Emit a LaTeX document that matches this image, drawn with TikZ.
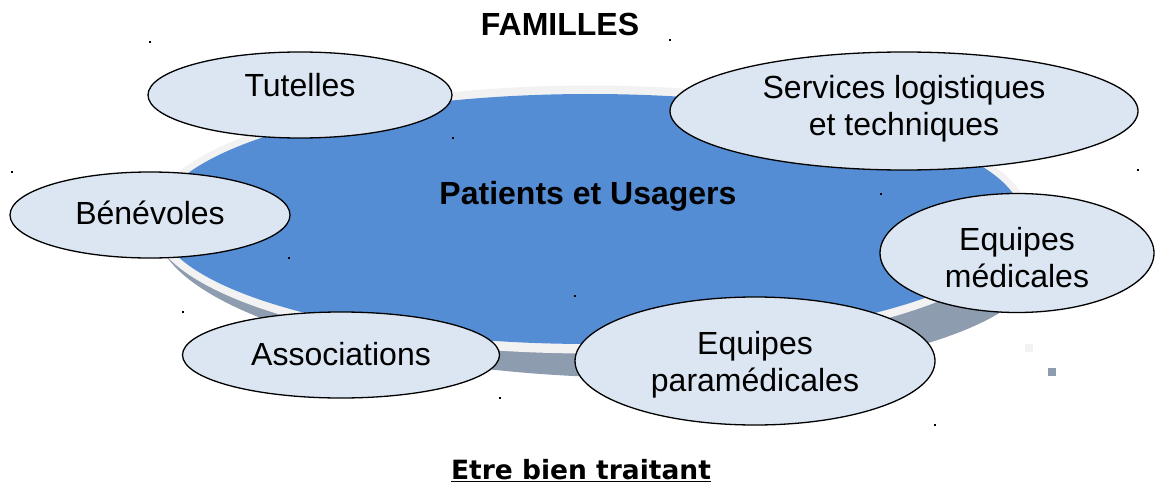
\documentclass[tikz,border=0pt]{standalone}
\usepackage{fontspec}
\setmainfont{Liberation Sans}
\newfontfamily\dejavu{DejaVu Sans}
\usetikzlibrary{shapes.geometric}
\definecolor{discblue}{RGB}{84,141,212}
\definecolor{discrim}{RGB}{242,242,242}
\definecolor{discside}{RGB}{142,156,175}
\definecolor{ovalfill}{RGB}{220,230,242}

\begin{document}
\begin{tikzpicture}[x=1pt,y=-1pt,
    famille/.style={ellipse,draw=black,line width=1.3pt,fill=ovalfill,inner sep=0pt},
    famtxt/.style={align=center,inner sep=0pt,font=\fontsize{32}{37}\selectfont},
    titre/.style={font=\bfseries\fontsize{32}{37}\selectfont},
    handle/.style={fill=black,inner sep=0pt,minimum size=2pt}]
    \useasboundingbox (0,0) rectangle (1155,484);

    % Disc (side, rim, top)
    \fill[discside,rotate around={-2:(600,241)}] (600,241) ellipse [x radius=444,y radius=136];
    \fill[discrim] (590,219.5) ellipse [x radius=440,y radius=134];
    \fill[discblue] (590,219) ellipse [x radius=432,y radius=125];
    \node[titre,anchor=base] (patients) at (588,204) {Patients et Usagers};

    % Titles
    \node[titre,anchor=base] (familles) at (560,36) {FAMILLES};
    \node[font=\dejavu\bfseries\fontsize{26.5}{30}\selectfont,anchor=base] (etre) at (581,479) {\underline{Etre bien traitant}};

    % Ovals round the disc
    \node[famille,minimum width=304,minimum height=86] (tutelles) at (300,95) {};
    \node[famille,minimum width=468,minimum height=118] (services) at (904,111) {};
    \node[famille,minimum width=280,minimum height=86] (benevoles) at (150,215) {};
    \node[famille,minimum width=274,minimum height=119] (medicales) at (1017,253) {};
    \node[famille,minimum width=317,minimum height=86] (associations) at (341,355) {};
    \node[famille,minimum width=360,minimum height=128] (paramed) at (755,361) {};

    % Their texts
    \node[famtxt,anchor=base] (tutlbl) at (300,96) {Tutelles};
    \node[famtxt] (servlbl) at (904,109) {Services logistiques\\et techniques};
    \node[famtxt] (benlbl) at (150,213) {Bénévoles};
    \node[famtxt] (medlbl) at (1017,258) {Equipes\\médicales};
    \node[famtxt] (asslbl) at (341,354) {Associations};
    \node[famtxt] (paralbl) at (755,364.5) {Equipes\\paramédicales};

    % Stray handles
    \foreach \px/\py [count=\i] in {150/42,670/40,453/138,881/194,1138/170,12/172,
      289/258,575/296,183/312,500/398,935/425}
      \node[handle] (dot\i) at (\px,\py) {};
    \node[fill=discrim,inner sep=0pt,minimum size=8pt] (sqa) at (1029,348) {};
    \node[fill=discside,inner sep=0pt,minimum size=8pt] (sqb) at (1052,372) {};
\end{tikzpicture}
\end{document}
